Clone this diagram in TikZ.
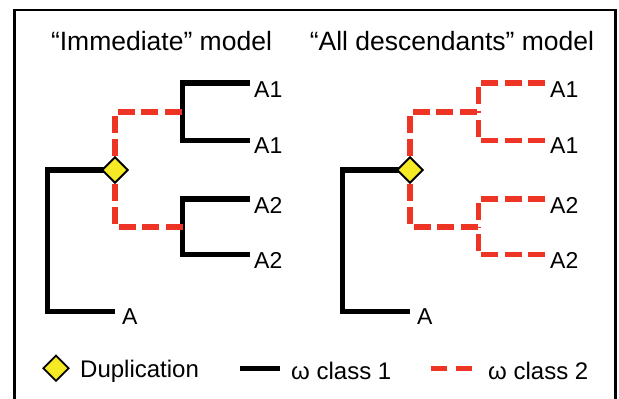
\documentclass[tikz,border=0pt]{standalone}
\usepackage{fontspec}
\setmainfont{Liberation Sans}
\usetikzlibrary{shapes.geometric}
\definecolor{redc}{RGB}{238,52,36}
\definecolor{yelc}{RGB}{245,234,35}
\tikzset{
  blk/.style={line width=5.5pt, black, line join=miter},
  rdd/.style={line width=5.5pt, redc, dash pattern=on 17pt off 6.5pt, line join=miter},
  dup/.style={diamond, draw=black, fill=yelc, line width=1.8pt, minimum width=26pt, minimum height=26pt, inner sep=0pt},
  ttl/.style={anchor=base, inner sep=0pt, font=\fontsize{26.5}{30}\selectfont},
  lbl/.style={anchor=base west, inner sep=0pt, font=\fontsize{23}{27}\selectfont},
  leg/.style={anchor=base west, inner sep=0pt, font=\fontsize{24}{28}\selectfont},
}
\begin{document}
\begin{tikzpicture}[x=1pt,y=-1pt]
\useasboundingbox (0,0) rectangle (619,399);
\clip (0,0) rectangle (619,399);
% frame
\draw[line width=2.6pt, line join=miter] (14.5,430) -- (14.5,10) -- (615.5,10) -- (615.5,430);
% titles
\node[ttl] (t1) at (161.5,50) {“Immediate” model};
\node[ttl] (t2) at (452,50) {“All descendants” model};

% ---------- left tree ----------
\coordinate (l1) at (47.5,170);
\coordinate (l2) at (47.5,311.5);
\coordinate (la) at (115,311.5);
\coordinate (lu) at (182.5,112);
\coordinate (ld) at (182.5,227);
\coordinate (lu1) at (182.5,83);
\coordinate (lu2) at (182.5,140.5);
\coordinate (ld1) at (182.5,199);
\coordinate (ld2) at (182.5,254.5);
\coordinate (lu1e) at (250,83);
\coordinate (lu2e) at (250,140.5);
\coordinate (ld1e) at (250,199);
\coordinate (ld2e) at (250,254.5);
\node[dup] (d1) at (115,170) {};
\draw[blk] (d1.center) -- (l1) -- (l2) -- (la);
\draw[blk] (lu1e) -- (lu1) -- (lu2) -- (lu2e);
\draw[blk] (ld1e) -- (ld1) -- (ld2) -- (ld2e);
\draw[rdd] (d1.north) |- (lu);
\draw[rdd] (d1.south) |- (ld);
\node[dup] (d1b) at (115,170) {};
\node[lbl] (nA1a) at (254,97) {A1};
\node[lbl] (nA1b) at (254,153.5) {A1};
\node[lbl] (nA2a) at (254,213) {A2};
\node[lbl] (nA2b) at (254,268) {A2};
\node[lbl] (nA) at (122,324.5) {A};

% ---------- right tree ----------
\coordinate (r1) at (342.5,170);
\coordinate (r2) at (342.5,311.5);
\coordinate (ra) at (410,311.5);
\coordinate (ru) at (478.5,112);
\coordinate (rd) at (478.5,227);
\coordinate (ru1) at (478.5,83);
\coordinate (ru2) at (478.5,140.5);
\coordinate (rd1) at (478.5,199);
\coordinate (rd2) at (478.5,254.5);
\coordinate (ru1e) at (545,83);
\coordinate (ru2e) at (545,140.5);
\coordinate (rd1e) at (545,199);
\coordinate (rd2e) at (545,254.5);
\node[dup] (d2) at (410,170) {};
\draw[blk] (d2.center) -- (r1) -- (r2) -- (ra);
\draw[rdd] (d2.north) |- (ru);
\draw[rdd] (d2.south) |- (rd);
\draw[rdd] (ru1e) -- (ru1) -- (ru);
\draw[rdd] (ru2e) -- (ru2) -- (ru);
\draw[rdd] (rd1e) -- (rd1) -- (rd);
\draw[rdd] (rd2e) -- (rd2) -- (rd);
\node[dup] (d2b) at (410,170) {};
\node[lbl] (mA1a) at (550,97) {A1};
\node[lbl] (mA1b) at (550,153.5) {A1};
\node[lbl] (mA2a) at (550,213) {A2};
\node[lbl] (mA2b) at (550,268) {A2};
\node[lbl] (mA) at (417,324.5) {A};

% ---------- legend ----------
\node[dup] (gd) at (56,368.3) {};
\node[leg] (gdt) at (80,377) {Duplication};
\coordinate (gb1) at (239.5,368.3);
\coordinate (gb2) at (279.5,368.3);
\draw[line width=5.5pt, black] (gb1) -- (gb2);
\node[leg] (gbt) at (291,379) {ω class 1};
\coordinate (gr1) at (431,368.3);
\coordinate (gr2) at (472,368.3);
\draw[line width=5.5pt, redc, dash pattern=on 16pt off 9pt] (gr1) -- (gr2);
\node[leg] (grt) at (488,379) {ω class 2};
\end{tikzpicture}
\end{document}
